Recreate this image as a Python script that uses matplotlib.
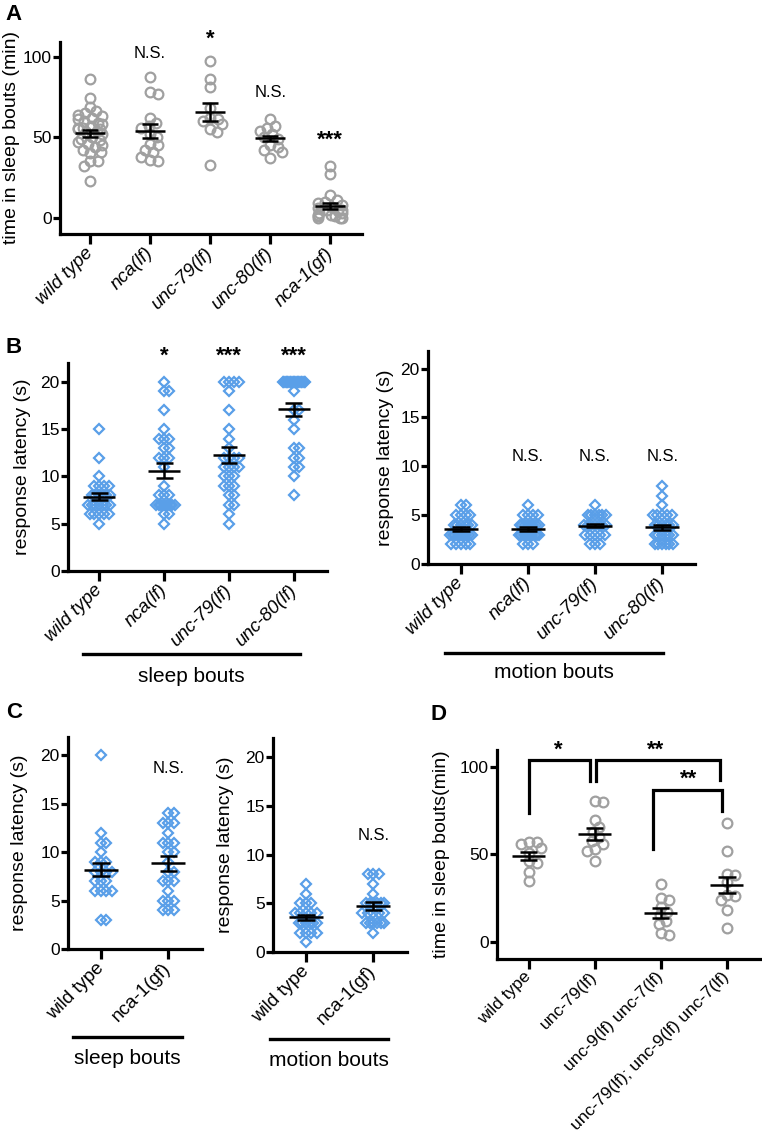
import numpy as np
import matplotlib
matplotlib.use('Agg')
import matplotlib.pyplot as plt
from matplotlib.lines import Line2D

plt.rcParams['font.family'] = ['Liberation Sans', 'DejaVu Sans']

# ---------------- data ----------------
# A: time in sleep bouts (min)
a_groups = ['wild type', 'nca(lf)', 'unc-79(lf)', 'unc-80(lf)', 'nca-1(gf)']
a_wt = [86, 74, 69, 66, 65, 64, 63, 62, 61, 60, 59, 58, 57, 56, 56, 55, 55, 54,
        53, 52, 50, 49, 48, 47, 46, 45, 44, 42, 41, 40, 35, 35, 32, 23]
a_nca = [87, 78, 77, 62, 59, 57, 56, 52, 50, 46, 45, 42, 41, 38, 36, 35]
a_unc79 = [97, 86, 81, 68, 62, 61, 60, 58, 55, 53, 33]
a_unc80 = [61, 57, 56, 54, 52, 50, 49, 45, 44, 42, 41, 37]
a_nca1gf = [32, 27, 14, 11, 10, 9, 8, 7, 6, 5, 5, 4, 3, 3, 2, 2, 1, 1, 0, 0, 0]
a_mean = [52.4, 53.8, 65.6, 49.3, 7.2]
a_sem = [2.3, 4.1, 5.3, 1.7, 2.0]
a_sig = ['', 'N.S.', '*', 'N.S.', '***']

# B: response latency (s)
b_groups = ['wild type', 'nca(lf)', 'unc-79(lf)', 'unc-80(lf)']
b_sleep_wt = [15, 12, 10, 9, 9, 9, 9, 8, 8, 8, 8, 8, 8, 7, 7, 7, 7, 7, 7, 7,
              6, 6, 6, 6, 6, 5]
b_sleep_nca = [20, 19, 19, 17, 15, 14, 14, 14, 13, 13, 12, 12, 12, 11, 9, 8, 8, 8,
               7, 7, 7, 7, 7, 7, 7, 7, 6, 6, 5]
b_sleep_unc79 = [20, 20, 20, 20, 19, 17, 15, 14, 13, 12, 12, 12, 12, 11, 11, 11, 11,
                 10, 10, 10, 9, 9, 9, 8, 8, 7, 7, 6, 5]
b_sleep_unc80 = [20] * 17 + [19, 17, 17, 16, 15, 13, 13, 12, 12, 11, 11, 10, 8]
b_sleep_mean = [7.85, 10.6, 12.3, 17.1]
b_sleep_sem = [0.35, 0.8, 0.85, 0.7]
b_sleep_sig = ['', '*', '***', '***']

b_motion_wt = [6, 6, 5, 5, 5, 5, 4, 4, 4, 4, 4, 4, 3, 3, 3, 3, 3, 3, 3, 3, 3,
               2, 2, 2, 2, 2]
b_motion_nca = [6, 5, 5, 5, 5, 4, 4, 4, 4, 4, 4, 4, 4, 3, 3, 3, 3, 3, 3, 3, 3,
                3, 3, 2, 2, 2]
b_motion_unc79 = [6, 5, 5, 5, 5, 5, 5, 4, 4, 4, 4, 4, 4, 4, 3, 3, 3, 3, 3, 2, 2, 2]
b_motion_unc80 = [8, 7, 6, 5, 5, 5, 5, 5, 4, 4, 4, 4, 4, 4, 3, 3, 3, 3, 3, 3,
                  2, 2, 2, 2, 2, 2]
b_motion_mean = [3.55, 3.6, 3.9, 3.75]
b_motion_sem = [0.2, 0.18, 0.15, 0.25]
b_motion_sig = ['', 'N.S.', 'N.S.', 'N.S.']

# C: response latency (s)
c_groups = ['wild type', 'nca-1(gf)']
c_sleep_wt = [20, 12, 11, 11, 10, 9, 9, 9, 8, 8, 8, 8, 7, 7, 7, 6, 6, 6, 6, 3, 3]
c_sleep_gf = [14, 14, 13, 13, 13, 12, 11, 11, 11, 10, 10, 9, 8, 8, 7, 7, 7, 6,
              5, 5, 5, 4, 4, 4]
c_sleep_mean = [8.2, 8.85]
c_sleep_sem = [0.7, 0.75]
c_motion_wt = [7, 6, 5, 5, 5, 4, 4, 4, 4, 4, 3, 3, 3, 3, 3, 3, 2, 2, 2, 2, 1]
c_motion_gf = [8, 8, 8, 7, 6, 5, 5, 5, 5, 5, 5, 4, 4, 4, 4, 4, 3, 3, 3, 3, 3, 3, 2]
c_motion_mean = [3.55, 4.7]
c_motion_sem = [0.3, 0.4]

# D: time in sleep bouts (min)
d_groups = ['wild type', 'unc-79(lf)', 'unc-9(lf) unc-7(lf)',
            'unc-79(lf); unc-9(lf) unc-7(lf)']
d_wt = [57, 57, 56, 54, 51, 46, 45, 40, 35]
d_unc79 = [81, 80, 70, 66, 63, 60, 58, 56, 53, 52, 46]
d_unc9unc7 = [33, 25, 24, 20, 17, 15, 12, 10, 5, 4]
d_triple = [68, 52, 39, 38, 34, 27, 26, 24, 18, 8]
d_mean = [49.0, 61.9, 16.4, 32.6]
d_sem = [2.4, 3.6, 2.8, 4.5]

GRAY = '#a0a0a0'
BLUE = '#5a9fe8'

W, H = 762, 1145
fig = plt.figure(figsize=(W / 100, H / 100), dpi=100)


def add_ax(l, r, t, b):
    return fig.add_axes([l / W, 1 - b / H, (r - l) / W, (b - t) / H])


def fx(x):
    return x / W


def fy(y):
    return 1 - y / H


def setup(ax, xlim, ylim, yticks, labels, italic, ylabel, label_px, left_px, width_px,
          xsize=13.5, xpad=5):
    ax.set_xlim(*xlim)
    ax.set_ylim(*ylim)
    for s in ['top', 'right']:
        ax.spines[s].set_visible(False)
    for s in ['left', 'bottom']:
        ax.spines[s].set_linewidth(2.3)
        ax.spines[s].set_capstyle('projecting')
    ax.set_yticks(yticks)
    ax.set_xticks(range(len(labels)))
    ax.set_xticklabels(labels, rotation=45, ha='right', va='center',
                       rotation_mode='anchor', fontsize=xsize,
                       style='italic' if italic else 'normal')
    ax.tick_params(axis='y', width=2.3, length=5, labelsize=12.5, pad=1)
    ax.tick_params(axis='x', width=2.3, length=7, pad=xpad)
    ax.set_ylabel(ylabel, fontsize=14, va='center')
    ax.yaxis.set_label_coords((label_px - left_px) / width_px, 0.5)


def swarm(ax, xc, vals, d, cap):
    p0 = ax.transData.transform((0, 0))
    p1 = ax.transData.transform((1, 1))
    sx, sy = p1 - p0
    v = np.asarray(vals, dtype=float)
    ypx = v * sy
    off = np.zeros(len(v))
    px_list, py_list = [], []
    for i in np.argsort(-ypx, kind='stable'):
        y = ypx[i]
        cands = [0.0]
        for qx, qy in zip(px_list, py_list):
            dy = y - qy
            if abs(dy) < d:
                dx = np.sqrt(d * d - dy * dy)
                cands += [qx + dx, qx - dx]
        cands.sort(key=lambda c: (round(abs(c), 6), -c))
        for c in cands:
            if all((c - qx) ** 2 + (y - qy) ** 2 >= d * d - 1e-6
                   for qx, qy in zip(px_list, py_list)):
                break
        off[i] = c
        px_list.append(c)
        py_list.append(y)
    # squeeze over-wide rows, as Prism does
    for u in np.unique(v):
        idx = v == u
        m = np.abs(off[idx]).max()
        if m > cap:
            off[idx] *= cap / m
    return xc + off / sx


def draw_group(ax, xc, vals, mean, sem, kind, d, cap):
    xs = swarm(ax, xc, vals, d, cap)
    if kind == 'circle':
        ax.plot(xs, vals, ls='none', marker='o', ms=7, mfc='none', mec=GRAY,
                mew=1.6, clip_on=False, zorder=2)
    else:
        ax.plot(xs, vals, ls='none', marker='D', ms=4.6, mfc='none', mec=BLUE,
                mew=1.6, clip_on=False, zorder=2)
    ax.hlines(mean, xc - 0.25, xc + 0.25, color='k', lw=1.8, zorder=3)
    ax.vlines(xc, mean - sem, mean + sem, color='k', lw=1.8, zorder=3)
    ax.hlines([mean - sem, mean + sem], xc - 0.13, xc + 0.13, color='k', lw=1.8, zorder=3)


def sig(ax, x, y, s):
    if not s:
        return
    if '*' in s:
        ax.text(x, y, s, ha='center', va='center', fontsize=16, fontweight='bold',
                clip_on=False)
    else:
        ax.text(x, y, s, ha='center', va='center', fontsize=12, clip_on=False)


def group_bar(x0, x1, y, text, ty):
    fig.add_artist(Line2D([fx(x0), fx(x1)], [fy(y), fy(y)], color='k', lw=2.4,
                          transform=fig.transFigure))
    fig.text(fx((x0 + x1) / 2), fy(ty), text, ha='center', va='center', fontsize=15)


# ---------------- panel A ----------------
axA = add_ax(60, 362, 42, 234)
setup(axA, (-0.5, 4.53), (-10, 109), [0, 50, 100], a_groups, True,
      'time in sleep bouts (min)', 12, 60, 302)
for i, vals in enumerate([a_wt, a_nca, a_unc79, a_unc80, a_nca1gf]):
    draw_group(axA, i, vals, a_mean[i], a_sem[i], 'circle', 8, 12)
for i, y in zip(range(5), [0, 102, 111, 78, 48]):
    sig(axA, i, y, a_sig[i])

# ---------------- panel B ----------------
axB1 = add_ax(68, 327, 363, 571)
setup(axB1, (-0.48, 3.51), (0, 22), [0, 5, 10, 15, 20], b_groups, True,
      'response latency (s)', 23, 68, 259)
for i, vals in enumerate([b_sleep_wt, b_sleep_nca, b_sleep_unc79, b_sleep_unc80]):
    draw_group(axB1, i, vals, b_sleep_mean[i], b_sleep_sem[i], 'diamond', 4.8, 11)
for i in range(4):
    sig(axB1, i, 22.7, b_sleep_sig[i])

axB2 = add_ax(428, 695, 351, 564)
setup(axB2, (-0.49, 3.49), (0, 21.8), [0, 5, 10, 15, 20], b_groups, True,
      'response latency (s)', 385, 428, 267)
for i, vals in enumerate([b_motion_wt, b_motion_nca, b_motion_unc79, b_motion_unc80]):
    draw_group(axB2, i, vals, b_motion_mean[i], b_motion_sem[i], 'diamond', 4.8, 11)
for i in range(4):
    sig(axB2, i, 11.0, b_motion_sig[i])

group_bar(83, 300, 654, 'sleep bouts', 677)
group_bar(445, 663, 653, 'motion bouts', 673)

# ---------------- panel C ----------------
axC1 = add_ax(68, 202, 737, 949)
setup(axC1, (-0.49, 1.5), (0, 21.9), [0, 5, 10, 15, 20], c_groups, False,
      'response latency (s)', 20, 68, 134)
for i, vals in enumerate([c_sleep_wt, c_sleep_gf]):
    draw_group(axC1, i, vals, c_sleep_mean[i], c_sleep_sem[i], 'diamond', 5.5, 11)
sig(axC1, 1, 18.6, 'N.S.')

axC2 = add_ax(273, 407, 738, 952)
setup(axC2, (-0.49, 1.5), (0, 22), [0, 5, 10, 15, 20], c_groups, False,
      'response latency (s)', 226, 273, 134)
for i, vals in enumerate([c_motion_wt, c_motion_gf]):
    draw_group(axC2, i, vals, c_motion_mean[i], c_motion_sem[i], 'diamond', 5.5, 11)
sig(axC2, 1, 12.0, 'N.S.')

group_bar(73, 182, 1037, 'sleep bouts', 1058)
group_bar(270, 388, 1039, 'motion bouts', 1060)

# ---------------- panel D ----------------
axD = add_ax(497, 760, 750, 959)
setup(axD, (-0.48, 3.5), (-10, 110), [0, 50, 100], d_groups, False,
      'time in sleep bouts(min)', 441, 497, 263, xsize=12.5, xpad=4)
for i, vals in enumerate([d_wt, d_unc79, d_unc9unc7, d_triple]):
    draw_group(axD, i, vals, d_mean[i], d_sem[i], 'circle', 8, 12)

for xs_, ys_ in [([0, 0, 0.93, 0.93], [74, 104, 104, 92]),
                 ([1.02, 1.02, 2.9, 2.9], [92, 104, 104, 92.5]),
                 ([1.88, 1.88, 2.92, 2.92], [53, 87, 87, 75])]:
    axD.plot(xs_, ys_, color='k', lw=2.3, clip_on=False, solid_joinstyle='miter')
sig(axD, 0.45, 110, '*')
sig(axD, 1.92, 110, '**')
sig(axD, 2.42, 93, '**')

# panel letters
for letter, (x, y) in zip('ABCD', [(14, 15), (14, 347), (14, 713), (438, 715)]):
    fig.text(fx(x), fy(y), letter, ha='center', va='center', fontsize=16,
             fontweight='bold')

fig.savefig('out.png', dpi=100)
